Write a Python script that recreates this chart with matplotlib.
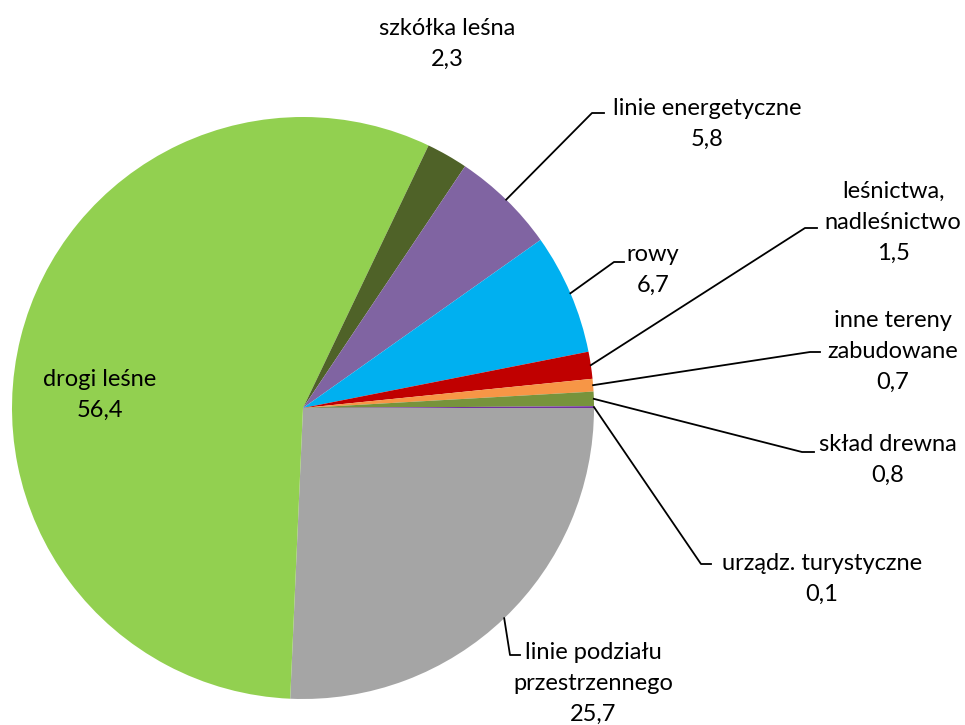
import numpy as np
import matplotlib.pyplot as plt

# udział poszczególnych kategorii (%)
nazwy = ["linie podziału\nprzestrzennego", "drogi leśne", "szkółka leśna",
         "linie energetyczne", "rowy", "leśnictwa,\nnadleśnictwo",
         "inne tereny\nzabudowane", "skład drewna", "urządz. turystyczne"]
wartosci = [25.7, 56.4, 2.3, 5.8, 6.7, 1.5, 0.7, 0.8, 0.1]
kolory = ["#A5A5A5", "#92D050", "#4F6228", "#8064A2", "#00B0F0",
          "#C00000", "#F79646", "#77933C", "#7030A0"]

W, H = 965, 725
CX, CY, R = 303, 408, 291   # środek i promień koła (px, od góry)

# położenie etykiet (środek tekstu) i załamanie linii odniesienia, px od góry
etykiety = [(593, 683), (100, 395), (447, 44), (707, 124), (653, 270),
            (893, 222), (893, 351), (888, 460), (822, 579)]
zalamania = [(510, 655), None, None, (592, 113), (614, 262),
             (805, 228), (810, 352), (802, 452), (701, 564)]
koniec_poziomo = [10, 0, 0, 12, 10, 12, 10, 12, 10]

fig = plt.figure(figsize=(W / 100, H / 100), dpi=100)
ax = fig.add_axes([0, 0, 1, 1])
ax.pie(wartosci, colors=kolory, startangle=0, counterclock=False,
       center=(CX, H - CY), radius=R, wedgeprops=dict(linewidth=0))
ax.set_xlim(0, W)
ax.set_ylim(0, H)
ax.set_aspect("equal")
ax.axis("off")

font = dict(family=["Lato", "DejaVu Sans"], fontsize=17, color="black",
            linespacing=1.58)

kum = np.cumsum([0] + wartosci)
for i, (n, v) in enumerate(zip(nazwy, wartosci)):
    tekst = n + "\n" + f"{v:.1f}".replace(".", ",")
    tx, ty = etykiety[i]
    ax.text(tx, H - ty, tekst, ha="center", va="center", **font)
    if zalamania[i] is None:
        continue
    # kąt środka wycinka (zgodnie z ruchem wskazówek, start na godz. 3)
    kat = -np.deg2rad((kum[i] + v / 2) / 100 * 360)
    x0 = CX + R * np.cos(kat)
    y0 = H - CY + R * np.sin(kat)
    if i == 2:
        ax.plot([x0, x0], [y0, H - 75], color="black", lw=1.3)
        continue
    zx, zy = zalamania[i]
    ax.plot([x0, zx, zx + koniec_poziomo[i]], [y0, H - zy, H - zy],
            color="black", lw=1.3)

fig.savefig("out.png", dpi=100)
